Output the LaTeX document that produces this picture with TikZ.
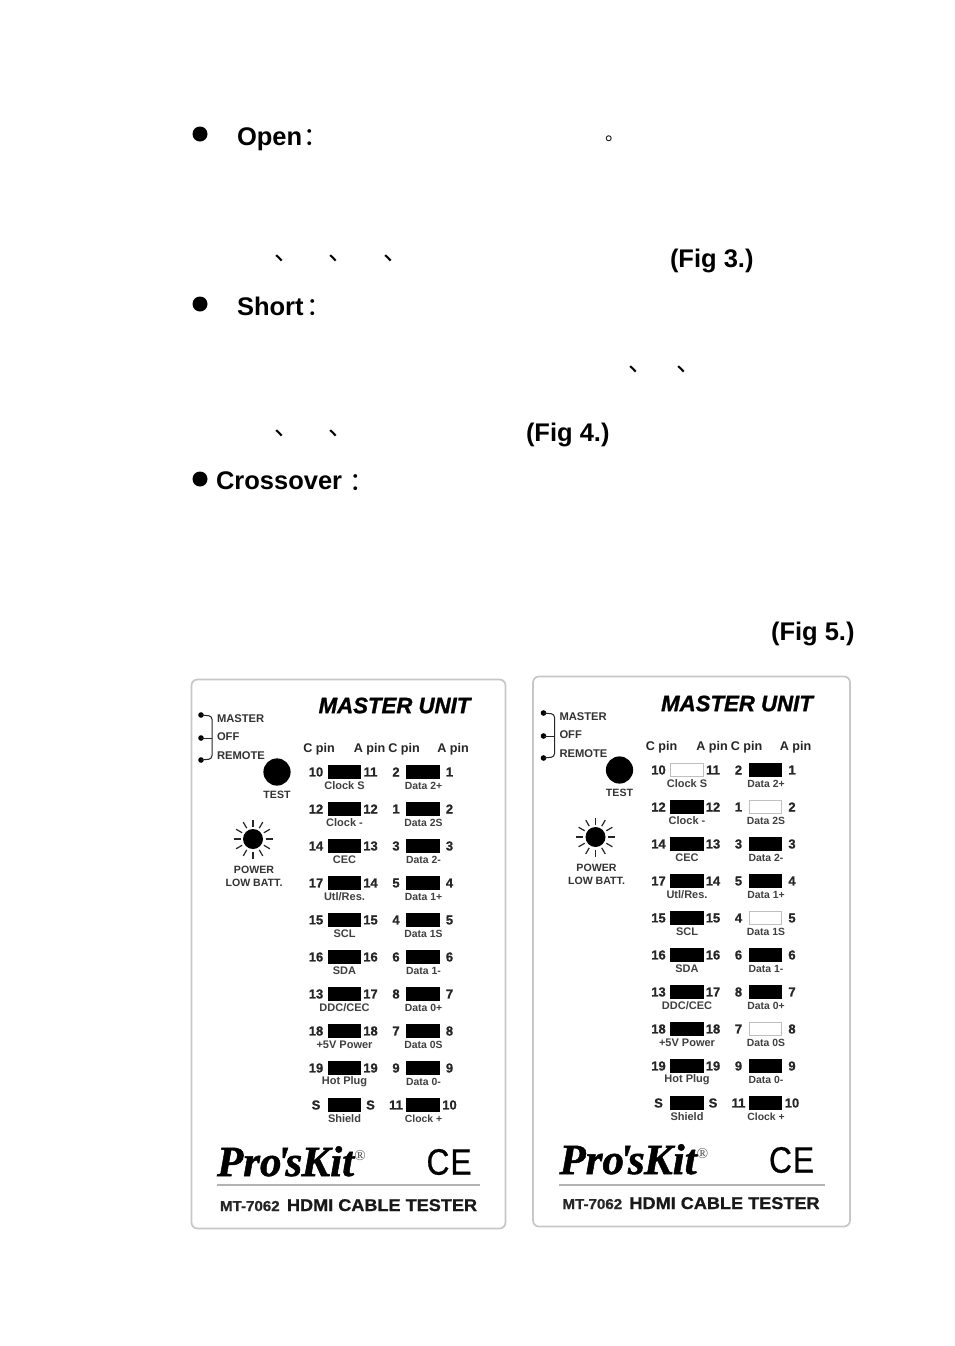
\documentclass[tikz,border=0pt]{standalone}
\usepackage{fontspec}
\setmainfont{Liberation Sans}
\newfontfamily\cjkfont{Noto Sans CJK SC}
\newfontfamily\logofont[BoldItalicFeatures={FakeBold=1.2}]{Liberation Serif}
\newfontfamily\hvfont[BoldFeatures={FakeBold=0.8},BoldItalicFeatures={FakeBold=1.2}]{Liberation Sans}
\newfontfamily\cefont[FakeBold=0.6]{Liberation Sans}
\newcommand\fpx[1]{\dimen0=#1pt \dimen0=0.75\dimen0 \fontsize{\dimen0}{\dimen0}\selectfont}
\usetikzlibrary{calc}
\tikzset{
  page/.style={x=0.75pt,y=-0.75pt},
  txt/.style={inner sep=0pt,outer sep=0pt,text=black},
  headtxt/.style={txt,font=\fpx{25.5}\bfseries,anchor=base west},
  figtxt/.style={txt,font=\fpx{25.5}\bfseries,anchor=base west},
  bullet/.style={circle,fill=black,minimum size=11.25pt,inner sep=0pt},
  punct/.style={txt,font=\fpx{25}\cjkfont},
  pinbar/.style={draw=#1,line width=0.6pt,minimum width=24.5pt,minimum height=9.4pt,inner sep=0pt,outer sep=0pt},
  pinnum/.style={txt,font=\fpx{13}\hvfont\bfseries,text=black!85},
  pinlabl/.style={txt,font=\fpx{11}\bfseries,text=black!75},
  pinlabr/.style={txt,font=\fpx{10.4}\bfseries,text=black!75},
  pinhead/.style={txt,font=\fpx{12.6}\bfseries,text=black!85},
  swlab/.style={txt,font=\fpx{11.2}\bfseries,text=black!80,anchor=west},
  panelbox/.style={draw=black!22,line width=1.3pt,rounded corners=4.5pt,fill=white},
}
% pin row: index, y, n1, n2, label, n3, n4, label
\newcommand\pinrow[8]{%
  \ifcsname wh\pfx l#1\endcsname\def\lc{white}\def\ld{black!25}\else\def\lc{black}\def\ld{black}\fi
  \ifcsname wh\pfx r#1\endcsname\def\rc{white}\def\rd{black!25}\else\def\rc{black}\def\rd{black}\fi
  \node[pinbar=\ld,fill=\lc] (\pfx-bl#1) at (344.5,#2) {};
  \node[pinnum] (\pfx-na#1) at (316,#2) {#3};
  \node[pinnum] (\pfx-nb#1) at (370.5,#2) {#4};
  \node[pinlabl] (\pfx-la#1) at (344.5,#2+13.5) {#5};
  \node[pinbar=\rd,fill=\rc] (\pfx-br#1) at (423,#2) {};
  \node[pinnum] (\pfx-nc#1) at (396,#2) {#6};
  \node[pinnum] (\pfx-nd#1) at (449.5,#2) {#7};
  \node[pinlabr] (\pfx-lb#1) at (423.5,#2+13.5) {#8};
}
\newcommand\panelbody{%
  \node[txt,font=\fpx{22.2}\hvfont\bfseries\itshape,text=black] (\pfx-title) at (394.5,705.5) {MASTER UNIT};
  % switch
  \fill (201,715) circle (2.8) (201,738) circle (2.8) (201,760) circle (2.8);
  \coordinate (\pfx-st) at (201,715);
  \coordinate (\pfx-sm) at (201,738);
  \coordinate (\pfx-sb) at (201,760);
  \draw[line width=0.75pt,black!85,rounded corners=2.5pt] (\pfx-st) -- (212,716) -- (212,759) -- (\pfx-sb);
  \draw[line width=0.75pt,black!85] (\pfx-sm) -- (212,738);
  \node[swlab] (\pfx-sw1) at (217,718.5) {MASTER};
  \node[swlab] (\pfx-sw2) at (217,737) {OFF};
  \node[swlab] (\pfx-sw3) at (217,755.5) {REMOTE};
  % test
  \node[circle,fill=black,minimum size=20.4pt,inner sep=0pt] (\pfx-test) at (277,772) {};
  \node[txt,font=\fpx{10.6}\bfseries,text=black!80] (\pfx-testl) at (277,795) {TEST};
  % power sun
  \node[circle,fill=black,minimum size=15pt,inner sep=0pt] (\pfx-sun) at (253,839) {};
  \foreach \a in {0,30,...,330}
    \draw[line width=0.9pt,black!85] ($(\pfx-sun)+(\a:12.5)$) -- ($(\pfx-sun)+(\a:19.5)$);
  \node[txt,font=\fpx{10.6}\bfseries,text=black!80] (\pfx-pw) at (254,870) {POWER};
  \node[txt,font=\fpx{10.6}\bfseries,text=black!80] (\pfx-lo) at (254,883) {LOW BATT.};
  % headers
  \node[pinhead] (\pfx-h1) at (319,749.5) {C pin};
  \node[pinhead] (\pfx-h2) at (369.5,749.5) {A pin};
  \node[pinhead] (\pfx-h3) at (404,749.5) {C pin};
  \node[pinhead] (\pfx-h4) at (453,749.5) {A pin};
  % rows
  \pinrow{1}{772}{10}{11}{Clock S}{2}{1}{Data 2+}
  \pinrow{2}{809}{12}{12}{Clock -}{1}{2}{Data 2S}
  \pinrow{3}{846}{14}{13}{CEC}{3}{3}{Data 2-}
  \pinrow{4}{883}{17}{14}{Utl/Res.}{5}{4}{Data 1+}
  \pinrow{5}{920}{15}{15}{SCL}{4}{5}{Data 1S}
  \pinrow{6}{957}{16}{16}{SDA}{6}{6}{Data 1-}
  \pinrow{7}{994}{13}{17}{DDC/CEC}{8}{7}{Data 0+}
  \pinrow{8}{1031}{18}{18}{+5V Power}{7}{8}{Data 0S}
  \pinrow{9}{1068}{19}{19}{Hot Plug}{9}{9}{Data 0-}
  \pinrow{10}{1105}{S}{S}{Shield}{11}{10}{Clock +}
  % logo
  \node[txt,anchor=base west,font=\fpx{43}\logofont\bfseries\itshape] (\pfx-logo) at (217,1176) {Pro\hspace{-3.5pt}'\hspace{-2.5pt}s\hspace{-0.5pt}Kit};
  \node[txt,font=\fpx{15}\logofont,text=black!70] (\pfx-reg) at (360,1155.5) {®};
  \node[txt,font=\fpx{36}\cefont,xscale=0.88,yscale=1.02] (\pfx-cc) at (438,1162) {C};
  \node[txt,font=\fpx{36}\cefont,xscale=0.88,yscale=1.02] (\pfx-ce) at (461,1162) {E};
  % model line
  \node[txt,anchor=base west,font=\fpx{14.4}\hvfont\bfseries,xscale=1.05,text=black!85] (\pfx-mod) at (220,1211) {MT-7062};
  \node[txt,anchor=base west,font=\fpx{17}\hvfont\bfseries,xscale=1.065,text=black!90] (\pfx-nam) at (287,1211) {HDMI CABLE TESTER};
}
\begin{document}
\begin{tikzpicture}[page]
\useasboundingbox (0,0) rectangle (954,1346);
\fill[white] (0,0) rectangle (954,1346);
% text page
\node[bullet] (b1) at (200,134) {};
\node[headtxt] (t1) at (237,145) {Open};
\node[punct] (c1) at (316,138) {：};
\node[punct,font=\fpx{19}\cjkfont] (p1) at (615,139) {。};
\node[punct] (k1) at (287,258) {、};
\node[punct] (k2) at (341,258) {、};
\node[punct] (k3) at (396,258) {、};
\node[figtxt] (f3) at (670,267) {(Fig 3.)};
\node[bullet] (b2) at (200,304) {};
\node[headtxt] (t2) at (237,315) {Short};
\node[punct] (c2) at (319,308) {：};
\node[punct] (k4) at (641,369) {、};
\node[punct] (k5) at (689,369) {、};
\node[punct] (k6) at (287,433) {、};
\node[punct] (k7) at (341,433) {、};
\node[figtxt] (f4) at (526,441) {(Fig 4.)};
\node[bullet] (b3) at (200,479) {};
\node[headtxt] (t3) at (216,489) {Crossover};
\node[punct] (c3) at (362,483) {：};
\node[figtxt] (f5) at (771,640) {(Fig 5.)};
% panel 1
\draw[panelbox] (191.5,679.5) rectangle (505.5,1228.5);
\draw[black!30,line width=1.5pt] (217,1185) -- (480,1185);
\def\pfx{m}
\panelbody
% panel 2
\draw[panelbox] (533,676.5) rectangle (850,1226.5);
\draw[black!30,line width=1.5pt] (559,1184.5) -- (825,1184.5);
\def\pfx{n}
\expandafter\def\csname whnl1\endcsname{}
\expandafter\def\csname whnr2\endcsname{}
\expandafter\def\csname whnr5\endcsname{}
\expandafter\def\csname whnr8\endcsname{}
\begin{scope}[shift={(342.5,-2)}]
\panelbody
\end{scope}
\end{tikzpicture}
\end{document}
